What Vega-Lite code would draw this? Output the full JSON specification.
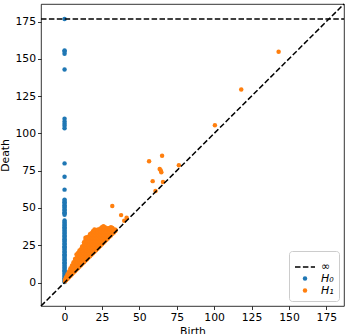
{
  "$schema": "https://vega.github.io/schema/vega-lite/v6.json",
  "width": 303,
  "height": 302,
  "autosize": "none",
  "padding": {"left": 41, "top": 4, "right": 2, "bottom": 28},
  "config": {
    "view": {"stroke": "black", "strokeWidth": 0.8},
    "axis": {
      "domain": false, "grid": false, "tickColor": "black", "tickSize": 3.5, "tickWidth": 0.8,
      "labelFont": "DejaVu Sans", "labelFontSize": 10.8, "labelColor": "black", "labelPadding": 2,
      "titleFont": "DejaVu Sans", "titleFontSize": 10.8, "titleFontWeight": "normal", "titleColor": "black"
    },
    "legend": {
      "orient": "bottom-right", "offset": 5, "symbolDash": [5.5, 2.4],
      "labelFont": "DejaVu Sans", "labelFontSize": 11, "labelFontStyle": "italic", "labelColor": "black",
      "labelOffset": 5, "rowPadding": 0, "padding": 5, "symbolOpacity": 1,
      "strokeColor": "#cccccc", "fillColor": "rgba(255,255,255,0.8)", "cornerRadius": 3
    }
  },
  "datasets": {
    "points": [
      {"birth":0,"death":176.7,"dim":"H₀"},{"birth":0,"death":155.7,"dim":"H₀"},{"birth":0,"death":154.9,"dim":"H₀"},{"birth":0,"death":153.4,"dim":"H₀"},{"birth":0,"death":142.8,"dim":"H₀"},{"birth":0,"death":109.8,"dim":"H₀"},{"birth":0,"death":108.0,"dim":"H₀"},{"birth":0,"death":106.5,"dim":"H₀"},{"birth":0,"death":105.1,"dim":"H₀"},{"birth":0,"death":103.5,"dim":"H₀"},{"birth":0,"death":79.9,"dim":"H₀"},{"birth":0,"death":71.0,"dim":"H₀"},{"birth":0,"death":62.3,"dim":"H₀"},
      {"birth":0,"death":55.6,"dim":"H₀"},{"birth":0,"death":54.6,"dim":"H₀"},{"birth":0,"death":53.9,"dim":"H₀"},{"birth":0,"death":52.8,"dim":"H₀"},{"birth":0,"death":51.9,"dim":"H₀"},{"birth":0,"death":50.8,"dim":"H₀"},{"birth":0,"death":50.1,"dim":"H₀"},{"birth":0,"death":49.0,"dim":"H₀"},{"birth":0,"death":48.3,"dim":"H₀"},{"birth":0,"death":47.2,"dim":"H₀"},{"birth":0,"death":46.4,"dim":"H₀"},{"birth":0,"death":45.5,"dim":"H₀"},
      {"birth":0,"death":41.6,"dim":"H₀"},{"birth":0,"death":40.6,"dim":"H₀"},{"birth":0,"death":39.9,"dim":"H₀"},{"birth":0,"death":38.8,"dim":"H₀"},{"birth":0,"death":38.1,"dim":"H₀"},{"birth":0,"death":37.0,"dim":"H₀"},{"birth":0,"death":36.3,"dim":"H₀"},{"birth":0,"death":35.2,"dim":"H₀"},{"birth":0,"death":34.5,"dim":"H₀"},{"birth":0,"death":33.4,"dim":"H₀"},{"birth":0,"death":32.7,"dim":"H₀"},{"birth":0,"death":31.6,"dim":"H₀"},{"birth":0,"death":30.9,"dim":"H₀"},{"birth":0,"death":29.8,"dim":"H₀"},{"birth":0,"death":29.1,"dim":"H₀"},{"birth":0,"death":28.0,"dim":"H₀"},{"birth":0,"death":27.3,"dim":"H₀"},{"birth":0,"death":26.2,"dim":"H₀"},{"birth":0,"death":25.5,"dim":"H₀"},{"birth":0,"death":24.4,"dim":"H₀"},{"birth":0,"death":23.7,"dim":"H₀"},{"birth":0,"death":22.6,"dim":"H₀"},{"birth":0,"death":21.9,"dim":"H₀"},{"birth":0,"death":20.8,"dim":"H₀"},{"birth":0,"death":20.1,"dim":"H₀"},{"birth":0,"death":19.0,"dim":"H₀"},{"birth":0,"death":18.3,"dim":"H₀"},{"birth":0,"death":17.2,"dim":"H₀"},{"birth":0,"death":16.5,"dim":"H₀"},{"birth":0,"death":15.4,"dim":"H₀"},{"birth":0,"death":14.7,"dim":"H₀"},{"birth":0,"death":13.6,"dim":"H₀"},{"birth":0,"death":12.9,"dim":"H₀"},{"birth":0,"death":11.8,"dim":"H₀"},{"birth":0,"death":11.1,"dim":"H₀"},{"birth":0,"death":10.0,"dim":"H₀"},{"birth":0,"death":9.3,"dim":"H₀"},{"birth":0,"death":8.2,"dim":"H₀"},{"birth":0,"death":7.5,"dim":"H₀"},{"birth":0,"death":6.4,"dim":"H₀"},{"birth":0,"death":5.7,"dim":"H₀"},{"birth":0,"death":4.6,"dim":"H₀"},{"birth":0,"death":3.9,"dim":"H₀"},{"birth":0,"death":2.8,"dim":"H₀"},{"birth":0,"death":2.1,"dim":"H₀"},{"birth":0,"death":1.0,"dim":"H₀"},{"birth":0,"death":0.4,"dim":"H₀"},
      {"birth":0.3,"death":0.8,"dim":"H₁"},{"birth":0.3,"death":1.8,"dim":"H₁"},
      {"birth":1,"death":1.6,"dim":"H₁"},{"birth":1,"death":3.5,"dim":"H₁"},
      {"birth":2,"death":2.5,"dim":"H₁"},{"birth":2,"death":4.5,"dim":"H₁"},{"birth":2,"death":5.5,"dim":"H₁"},
      {"birth":3,"death":3.6,"dim":"H₁"},{"birth":3,"death":5.5,"dim":"H₁"},{"birth":3,"death":7.4,"dim":"H₁"},
      {"birth":4,"death":4.6,"dim":"H₁"},{"birth":4,"death":6.5,"dim":"H₁"},{"birth":4,"death":8.5,"dim":"H₁"},{"birth":4,"death":9.6,"dim":"H₁"},
      {"birth":5,"death":5.6,"dim":"H₁"},{"birth":5,"death":7.5,"dim":"H₁"},{"birth":5,"death":9.5,"dim":"H₁"},{"birth":5,"death":11.4,"dim":"H₁"},
      {"birth":6,"death":6.7,"dim":"H₁"},{"birth":6,"death":8.6,"dim":"H₁"},{"birth":6,"death":10.6,"dim":"H₁"},{"birth":6,"death":12.5,"dim":"H₁"},{"birth":6,"death":13.6,"dim":"H₁"},
      {"birth":7,"death":7.6,"dim":"H₁"},{"birth":7,"death":9.5,"dim":"H₁"},{"birth":7,"death":11.5,"dim":"H₁"},{"birth":7,"death":13.5,"dim":"H₁"},{"birth":7,"death":15.8,"dim":"H₁"},
      {"birth":8,"death":8.7,"dim":"H₁"},{"birth":8,"death":10.5,"dim":"H₁"},{"birth":8,"death":12.5,"dim":"H₁"},{"birth":8,"death":14.6,"dim":"H₁"},{"birth":8,"death":16.5,"dim":"H₁"},{"birth":8,"death":18.8,"dim":"H₁"},
      {"birth":9,"death":9.6,"dim":"H₁"},{"birth":9,"death":11.6,"dim":"H₁"},{"birth":9,"death":13.5,"dim":"H₁"},{"birth":9,"death":15.5,"dim":"H₁"},{"birth":9,"death":17.6,"dim":"H₁"},{"birth":9,"death":19.8,"dim":"H₁"},
      {"birth":10,"death":10.7,"dim":"H₁"},{"birth":10,"death":12.6,"dim":"H₁"},{"birth":10,"death":14.5,"dim":"H₁"},{"birth":10,"death":16.6,"dim":"H₁"},{"birth":10,"death":18.5,"dim":"H₁"},{"birth":10,"death":20.5,"dim":"H₁"},{"birth":10,"death":21.4,"dim":"H₁"},
      {"birth":11,"death":11.6,"dim":"H₁"},{"birth":11,"death":13.5,"dim":"H₁"},{"birth":11,"death":15.6,"dim":"H₁"},{"birth":11,"death":17.5,"dim":"H₁"},{"birth":11,"death":19.6,"dim":"H₁"},{"birth":11,"death":21.5,"dim":"H₁"},{"birth":11,"death":22.4,"dim":"H₁"},
      {"birth":11.8,"death":24.1,"dim":"H₁"},
      {"birth":12,"death":12.7,"dim":"H₁"},{"birth":12,"death":14.6,"dim":"H₁"},{"birth":12,"death":16.5,"dim":"H₁"},{"birth":12,"death":18.6,"dim":"H₁"},{"birth":12,"death":20.5,"dim":"H₁"},{"birth":12,"death":22.6,"dim":"H₁"},{"birth":12,"death":23.8,"dim":"H₁"},
      {"birth":13,"death":13.6,"dim":"H₁"},{"birth":13,"death":15.5,"dim":"H₁"},{"birth":13,"death":17.6,"dim":"H₁"},{"birth":13,"death":19.5,"dim":"H₁"},{"birth":13,"death":21.6,"dim":"H₁"},{"birth":13,"death":23.5,"dim":"H₁"},{"birth":13,"death":25.5,"dim":"H₁"},{"birth":13,"death":27.0,"dim":"H₁"},
      {"birth":14,"death":14.7,"dim":"H₁"},{"birth":14,"death":16.6,"dim":"H₁"},{"birth":14,"death":18.5,"dim":"H₁"},{"birth":14,"death":20.6,"dim":"H₁"},{"birth":14,"death":22.5,"dim":"H₁"},{"birth":14,"death":24.6,"dim":"H₁"},{"birth":14,"death":26.5,"dim":"H₁"},{"birth":14,"death":28.5,"dim":"H₁"},{"birth":14,"death":30.0,"dim":"H₁"},
      {"birth":15,"death":15.6,"dim":"H₁"},{"birth":15,"death":17.5,"dim":"H₁"},{"birth":15,"death":19.6,"dim":"H₁"},{"birth":15,"death":21.5,"dim":"H₁"},{"birth":15,"death":23.6,"dim":"H₁"},{"birth":15,"death":25.5,"dim":"H₁"},{"birth":15,"death":27.6,"dim":"H₁"},{"birth":15,"death":29.5,"dim":"H₁"},{"birth":15,"death":30.4,"dim":"H₁"},
      {"birth":16,"death":16.7,"dim":"H₁"},{"birth":16,"death":18.6,"dim":"H₁"},{"birth":16,"death":20.5,"dim":"H₁"},{"birth":16,"death":22.6,"dim":"H₁"},{"birth":16,"death":24.5,"dim":"H₁"},{"birth":16,"death":26.6,"dim":"H₁"},{"birth":16,"death":28.5,"dim":"H₁"},{"birth":16,"death":30.6,"dim":"H₁"},
      {"birth":17,"death":17.6,"dim":"H₁"},{"birth":17,"death":19.5,"dim":"H₁"},{"birth":17,"death":21.6,"dim":"H₁"},{"birth":17,"death":23.5,"dim":"H₁"},{"birth":17,"death":25.6,"dim":"H₁"},{"birth":17,"death":27.5,"dim":"H₁"},{"birth":17,"death":29.6,"dim":"H₁"},{"birth":17,"death":31.5,"dim":"H₁"},{"birth":17,"death":32.4,"dim":"H₁"},
      {"birth":18,"death":18.7,"dim":"H₁"},{"birth":18,"death":20.6,"dim":"H₁"},{"birth":18,"death":22.5,"dim":"H₁"},{"birth":18,"death":24.6,"dim":"H₁"},{"birth":18,"death":26.5,"dim":"H₁"},{"birth":18,"death":28.6,"dim":"H₁"},{"birth":18,"death":30.5,"dim":"H₁"},{"birth":18,"death":32.6,"dim":"H₁"},{"birth":18,"death":33.0,"dim":"H₁"},
      {"birth":19,"death":19.6,"dim":"H₁"},{"birth":19,"death":21.5,"dim":"H₁"},{"birth":19,"death":23.6,"dim":"H₁"},{"birth":19,"death":25.5,"dim":"H₁"},{"birth":19,"death":27.6,"dim":"H₁"},{"birth":19,"death":29.5,"dim":"H₁"},{"birth":19,"death":31.6,"dim":"H₁"},{"birth":19,"death":33.5,"dim":"H₁"},{"birth":19,"death":34.4,"dim":"H₁"},
      {"birth":20,"death":20.7,"dim":"H₁"},{"birth":20,"death":22.6,"dim":"H₁"},{"birth":20,"death":24.5,"dim":"H₁"},{"birth":20,"death":26.6,"dim":"H₁"},{"birth":20,"death":28.5,"dim":"H₁"},{"birth":20,"death":30.6,"dim":"H₁"},{"birth":20,"death":32.5,"dim":"H₁"},{"birth":20,"death":34.6,"dim":"H₁"},{"birth":20,"death":35.5,"dim":"H₁"},
      {"birth":21,"death":21.6,"dim":"H₁"},{"birth":21,"death":23.5,"dim":"H₁"},{"birth":21,"death":25.6,"dim":"H₁"},{"birth":21,"death":27.5,"dim":"H₁"},{"birth":21,"death":29.6,"dim":"H₁"},{"birth":21,"death":31.5,"dim":"H₁"},{"birth":21,"death":33.6,"dim":"H₁"},{"birth":21,"death":34.9,"dim":"H₁"},
      {"birth":22,"death":22.7,"dim":"H₁"},{"birth":22,"death":24.6,"dim":"H₁"},{"birth":22,"death":26.5,"dim":"H₁"},{"birth":22,"death":28.6,"dim":"H₁"},{"birth":22,"death":30.5,"dim":"H₁"},{"birth":22,"death":32.6,"dim":"H₁"},{"birth":22,"death":34.5,"dim":"H₁"},{"birth":22,"death":35.4,"dim":"H₁"},
      {"birth":23,"death":23.6,"dim":"H₁"},{"birth":23,"death":25.5,"dim":"H₁"},{"birth":23,"death":27.6,"dim":"H₁"},{"birth":23,"death":29.5,"dim":"H₁"},{"birth":23,"death":31.6,"dim":"H₁"},{"birth":23,"death":33.5,"dim":"H₁"},{"birth":23,"death":35.6,"dim":"H₁"},
      {"birth":24,"death":24.7,"dim":"H₁"},{"birth":24,"death":26.6,"dim":"H₁"},{"birth":24,"death":28.5,"dim":"H₁"},{"birth":24,"death":30.6,"dim":"H₁"},{"birth":24,"death":32.5,"dim":"H₁"},{"birth":24,"death":34.6,"dim":"H₁"},{"birth":24,"death":36.3,"dim":"H₁"},
      {"birth":25,"death":25.6,"dim":"H₁"},{"birth":25,"death":27.5,"dim":"H₁"},{"birth":25,"death":29.6,"dim":"H₁"},{"birth":25,"death":31.5,"dim":"H₁"},{"birth":25,"death":33.6,"dim":"H₁"},{"birth":25,"death":35.5,"dim":"H₁"},{"birth":25,"death":37.0,"dim":"H₁"},
      {"birth":26,"death":26.7,"dim":"H₁"},{"birth":26,"death":28.6,"dim":"H₁"},{"birth":26,"death":30.5,"dim":"H₁"},{"birth":26,"death":32.6,"dim":"H₁"},{"birth":26,"death":34.5,"dim":"H₁"},{"birth":26,"death":36.6,"dim":"H₁"},{"birth":26,"death":37.7,"dim":"H₁"},
      {"birth":27,"death":27.6,"dim":"H₁"},{"birth":27,"death":29.5,"dim":"H₁"},{"birth":27,"death":31.6,"dim":"H₁"},{"birth":27,"death":33.5,"dim":"H₁"},{"birth":27,"death":35.6,"dim":"H₁"},{"birth":27,"death":37.0,"dim":"H₁"},
      {"birth":28,"death":28.7,"dim":"H₁"},{"birth":28,"death":30.6,"dim":"H₁"},{"birth":28,"death":32.5,"dim":"H₁"},{"birth":28,"death":34.6,"dim":"H₁"},{"birth":28,"death":36.0,"dim":"H₁"},
      {"birth":29,"death":29.6,"dim":"H₁"},{"birth":29,"death":31.5,"dim":"H₁"},{"birth":29,"death":33.6,"dim":"H₁"},{"birth":29,"death":35.5,"dim":"H₁"},{"birth":29,"death":36.4,"dim":"H₁"},
      {"birth":30,"death":30.7,"dim":"H₁"},{"birth":30,"death":32.6,"dim":"H₁"},{"birth":30,"death":34.5,"dim":"H₁"},{"birth":30,"death":36.4,"dim":"H₁"},
      {"birth":31,"death":31.6,"dim":"H₁"},{"birth":31,"death":33.5,"dim":"H₁"},{"birth":31,"death":35.6,"dim":"H₁"},{"birth":31,"death":37.0,"dim":"H₁"},
      {"birth":32,"death":32.7,"dim":"H₁"},{"birth":32,"death":34.6,"dim":"H₁"},{"birth":32,"death":36.5,"dim":"H₁"},
      {"birth":33,"death":33.6,"dim":"H₁"},{"birth":33,"death":35.5,"dim":"H₁"},
      {"birth":34,"death":34.6,"dim":"H₁"},{"birth":34,"death":35.4,"dim":"H₁"},
      {"birth":31.9,"death":51.3,"dim":"H₁"},{"birth":37.8,"death":45.2,"dim":"H₁"},{"birth":41.5,"death":43.5,"dim":"H₁"},{"birth":39.9,"death":41.5,"dim":"H₁"},
      {"birth":56.5,"death":81.4,"dim":"H₁"},{"birth":65.2,"death":85.0,"dim":"H₁"},{"birth":63.6,"death":76.1,"dim":"H₁"},{"birth":64.3,"death":75.2,"dim":"H₁"},{"birth":64.7,"death":73.9,"dim":"H₁"},{"birth":76.4,"death":78.6,"dim":"H₁"},{"birth":58.9,"death":68.0,"dim":"H₁"},{"birth":65.8,"death":67.4,"dim":"H₁"},{"birth":60.8,"death":61.4,"dim":"H₁"},
      {"birth":100.5,"death":105.5,"dim":"H₁"},{"birth":118.1,"death":129.4,"dim":"H₁"},{"birth":143.1,"death":154.7,"dim":"H₁"}
    ]
  },
  "layer": [
    {
      "data": {"name": "points"},
      "mark": {"type": "point", "filled": true, "opacity": 1},
      "encoding": {
        "x": {"field": "birth", "type": "quantitative", "title": "Birth",
              "scale": {"domain": [-15.75, 186.8], "nice": false, "zero": false},
              "axis": {"values": [0, 25, 50, 75, 100, 125, 150, 175], "titlePadding": 3}},
        "y": {"field": "death", "type": "quantitative", "title": "Death",
              "scale": {"domain": [-15.75, 186.8], "nice": false, "zero": false},
              "axis": {"values": [0, 25, 50, 75, 100, 125, 150, 175], "titlePadding": 4}},
        "fill": {"field": "dim", "type": "nominal", "title": null,
                 "scale": {"domain": ["∞", "H₀", "H₁"], "range": ["black", "#1f77b4", "#ff7f0e"]}},
        "stroke": {"field": "dim", "type": "nominal", "title": null,
                 "scale": {"domain": ["∞", "H₀", "H₁"], "range": ["black", "#1f77b4", "#ff7f0e"]}},
        "shape": {"field": "dim", "type": "nominal", "title": null,
                 "scale": {"domain": ["∞", "H₀", "H₁"], "range": ["stroke", "circle", "circle"]}},
        "size": {"field": "dim", "type": "nominal", "title": null,
                 "scale": {"type": "ordinal", "domain": ["∞", "H₀", "H₁"], "range": [400, 20, 20]}},
        "strokeWidth": {"field": "dim", "type": "nominal", "title": null,
                 "scale": {"type": "ordinal", "domain": ["∞", "H₀", "H₁"], "range": [1.5, 0, 0]}}
      }
    },
    {
      "data": {"values": [{}]},
      "mark": {"type": "rule", "color": "black", "strokeWidth": 1.5, "strokeDash": [5.5, 2.4]},
      "encoding": {
        "x": {"datum": -15.75, "type": "quantitative"},
        "y": {"datum": -15.75, "type": "quantitative"},
        "x2": {"datum": 186.8},
        "y2": {"datum": 186.8}
      }
    },
    {
      "data": {"values": [{}]},
      "mark": {"type": "rule", "color": "black", "strokeWidth": 1.5, "strokeDash": [5.5, 2.4]},
      "encoding": {
        "x": {"datum": -15.75, "type": "quantitative"},
        "x2": {"datum": 186.8},
        "y": {"datum": 176.7, "type": "quantitative"}
      }
    }
  ]
}
